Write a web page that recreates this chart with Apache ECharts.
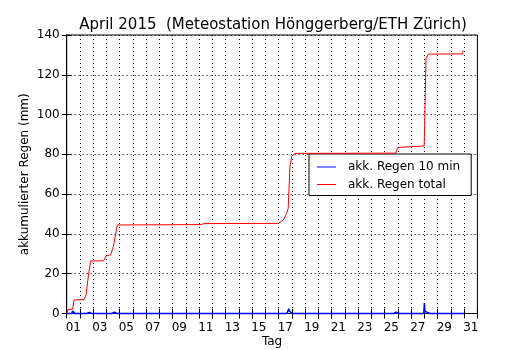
<!DOCTYPE html>
<html>
<head>
<meta charset="utf-8">
<script src="https://cdn.jsdelivr.net/npm/echarts@6/dist/echarts.min.js"></script>
<style>
  html, body { margin: 0; padding: 0; background: #fff; }
  #myChart { width: 530px; height: 350px; }
</style>
</head>
<body>
<div id="myChart"></div>
<script type="text/javascript">

  // x values are days since 1 April 00:00
  var totalDays = [0, 0.1, 0.45, 0.55, 1.3, 1.46, 1.63, 1.81, 2.8, 2.97, 3.32, 3.52, 3.82,
    10.15, 10.35, 15.97, 16.35, 16.6, 16.72, 16.85, 16.98, 17.23, 24.85, 24.98, 26.98,
    27.05, 27.12, 27.3, 29.88, 29.93];
  var totalRain = [0, 2.0, 2.2, 6.8, 7.0, 9.3, 18.5, 26.4, 26.5, 28.9, 29.5, 33.6, 44.5,
    44.7, 45.2, 45.3, 47.0, 50.3, 52.9, 73.8, 78.8, 80.5, 80.6, 83.5, 84.2,
    103.9, 128.2, 130.4, 130.5, 132.3];

  var tenMinDays = [0, 0.38, 0.45, 0.62, 1.52, 1.7, 1.9, 3.4, 3.6, 3.8,
    16.6, 16.7, 16.76, 16.82, 17.0, 24.7, 24.87, 25.04,
    26.95, 27.0, 27.04, 27.2, 27.4, 30];
  var tenMinRain = [0, 0, 1.3, 0, 0, 0.5, 0, 0, 0.6, 0,
    0, 1.2, 2.4, 1.2, 0, 0, 0.7, 0,
    0, 5.2, 1.2, 0.6, 0, 0];

  var dayLabels = [];
  for (var d = 1; d <= 31; d++) {
    dayLabels.push(d < 10 ? '0' + d : '' + d);
  }

  var chartDom = document.getElementById('myChart');
  var myChart = echarts.init(chartDom);

  var font = 'DejaVu Sans';

  function pairs(xs, ys) {
    var out = [];
    for (var i = 0; i < xs.length; i++) out.push([xs[i], ys[i]]);
    return out;
  }

  var option = {
    backgroundColor: '#ffffff',
    animation: false,
    title: {
      text: 'April 2015  (Meteostation Hönggerberg/ETH Zürich)',
      left: 268,
      textAlign: 'center',
      top: 13,
      textStyle: { fontFamily: font, fontSize: 15, fontWeight: 'normal', color: '#000' }
    },
    legend: {
      left: 309,
      top: 154,
      orient: 'vertical',
      icon: 'rect',
      itemWidth: 19,
      itemHeight: 1,
      itemGap: 5.5,
      padding: [7, 11, 5, 8],
      borderColor: '#000',
      borderWidth: 1,
      borderRadius: 0,
      backgroundColor: '#fff',
      textStyle: { fontFamily: font, fontSize: 12, color: '#000', padding: [0, 0, 0, 7] },
      data: ['akk. Regen 10 min', 'akk. Regen total']
    },
    grid: {
      left: 66.7,
      right: 52.6,
      top: 35,
      bottom: 36.5,
      outerBoundsMode: 'none',
      containLabel: false,
      show: true,
      borderColor: '#000',
      borderWidth: 1
    },
    xAxis: [
      {
        type: 'value', min: 0, max: 31, interval: 1, position: 'bottom',
        axisLine: { show: true, lineStyle: { color: '#000', width: 1 } },
        axisTick: { show: true, inside: true, length: 5, lineStyle: { color: '#000' } },
        axisLabel: { show: false },
        splitLine: { show: true, lineStyle: { color: '#000', type: [1, 3], width: 1 } }
      },
      {
        type: 'value', min: 0, max: 31, interval: 1, position: 'top',
        axisLine: { show: true, lineStyle: { color: '#000', width: 1 } },
        axisTick: { show: true, inside: true, length: 5, lineStyle: { color: '#000' } },
        axisLabel: { show: false },
        splitLine: { show: false }
      },
      {
        type: 'category', data: dayLabels, position: 'bottom', boundaryGap: true,
        axisLine: { show: false }, axisTick: { show: false }, splitLine: { show: false },
        axisLabel: { interval: 1, margin: 8, fontFamily: font, fontSize: 12, color: '#000' },
        name: 'Tag', nameLocation: 'middle', nameGap: 22, nameMoveOverlap: false,
        nameTextStyle: { fontFamily: font, fontSize: 12, color: '#000' }
      }
    ],
    yAxis: [
      {
        type: 'value', min: 0, max: 140, interval: 20, position: 'left',
        axisLine: { show: true, lineStyle: { color: '#000', width: 1 } },
        axisTick: { show: true, inside: true, length: 5, lineStyle: { color: '#000' } },
        axisLabel: { margin: 7, fontFamily: font, fontSize: 12, color: '#000' },
        splitLine: { show: true, lineStyle: { color: '#000', type: [1, 3], width: 1 } },
        name: 'akkumulierter Regen (mm)', nameLocation: 'middle', nameGap: 36, nameMoveOverlap: false,
        nameTextStyle: { fontFamily: font, fontSize: 12, color: '#000' }
      },
      {
        type: 'value', min: 0, max: 140, interval: 20, position: 'right',
        axisLine: { show: true, lineStyle: { color: '#000', width: 1 } },
        axisTick: { show: true, inside: true, length: 5, lineStyle: { color: '#000' } },
        axisLabel: { show: false },
        splitLine: { show: false }
      }
    ],
    series: [
      {
        name: 'akk. Regen 10 min',
        type: 'line',
        xAxisIndex: 0,
        yAxisIndex: 0,
        symbol: 'none',
        clip: false,
        z: 5,
        lineStyle: { color: '#0000ff', width: 1.5 },
        itemStyle: { color: '#0000ff' },
        data: pairs(tenMinDays, tenMinRain)
      },
      {
        name: 'akk. Regen total',
        type: 'line',
        xAxisIndex: 0,
        yAxisIndex: 0,
        symbol: 'none',
        clip: false,
        z: 6,
        lineStyle: { color: '#ff0000', width: 1 },
        itemStyle: { color: '#ff0000' },
        data: pairs(totalDays, totalRain)
      }
    ]
  };

  option && myChart.setOption(option);
</script>
</body>
</html>
